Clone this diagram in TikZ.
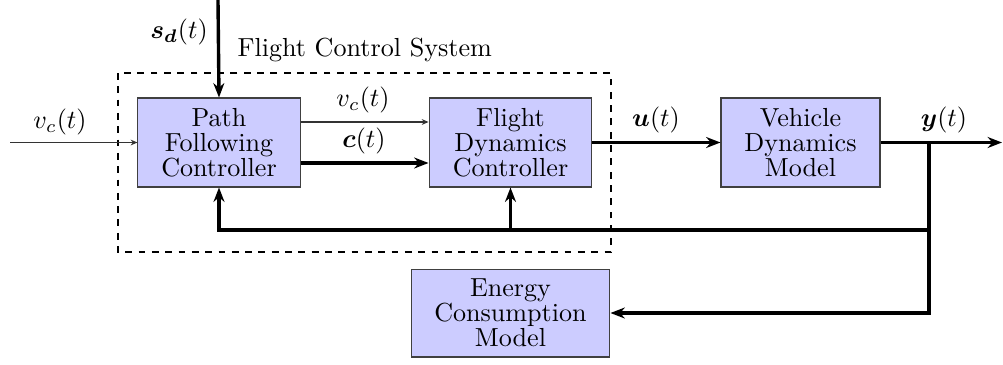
\documentclass[tikz,border=0pt]{standalone}
\usepackage{amsmath}
\usetikzlibrary{arrows.meta}
\tikzset{
  blk/.style={draw=black!75, fill=blue!20, line width=0.4pt, align=center, inner sep=0pt},
  thk/.style={line width=1.3pt},
  thn/.style={line width=0.4pt, draw=black!80},
  thkarr/.style={thk, -{Stealth[length=5.5pt,width=4.2pt]}},
  thnarr/.style={thn, -{Stealth[length=2.6pt,width=2.2pt]}},
  lbl/.style={inner sep=0pt},
}
\begin{document}
\begin{tikzpicture}[x=0.3831pt,y=-0.3831pt]
\useasboundingbox (0,0) rectangle (1003,364);
% dashed system box
\draw[line width=0.5pt, dash pattern=on 2.6pt off 2.5pt] (118,73) rectangle (611,252);
\node[lbl, anchor=west] (fcslbl) at (237,50) {Flight Control System};
% blocks
\node[blk, minimum width=62.1pt, minimum height=34.1pt] (pf) at (219,142.5) {Path\\[-2.4pt]Following\\[-2.4pt]Controller};
\node[blk, minimum width=62.4pt, minimum height=34.1pt] (fd) at (510.5,142.5) {Flight\\[-2.4pt]Dynamics\\[-2.4pt]Controller};
\node[blk, minimum width=60.9pt, minimum height=34.1pt] (vd) at (800.5,142.5) {Vehicle\\[-2.4pt]Dynamics\\[-2.4pt]Model};
\node[blk, minimum width=76.2pt, minimum height=33.7pt] (en) at (510.5,313) {Energy\\[-2.4pt]Consumption\\[-2.4pt]Model};
% coordinates
\coordinate (vin) at (10,142.5);
\coordinate (sdtop) at (218,0);
\coordinate (vcy) at (0,122);
\coordinate (cy) at (0,163);
\coordinate (br) at (929,142.5);
\coordinate (fb) at (929,230);
\coordinate (yout) at (1002,142.5);
% connectors
\draw[thnarr] (vin) -- (pf.west);
\draw[thkarr] (sdtop) -- (pf.north);
\draw[thnarr] (pf.east |- vcy) -- (fd.west |- vcy);
\draw[thkarr] (pf.east |- cy) -- (fd.west |- cy);
\draw[thkarr] (fd.east) -- (vd.west);
\draw[thkarr] (vd.east) -- (yout);
\draw[thkarr] (br) |- (en.east);
\draw[thkarr] (fb) -| (pf.south);
\draw[thkarr] (fd.south |- fb) -- (fd.south);
% labels
\node[lbl] (lvin) at (60,122) {$v_c(t)$};
\node[lbl] (lsd) at (179,32) {$\boldsymbol{s_d}(t)$};
\node[lbl] (lvc) at (363,100) {$v_c(t)$};
\node[lbl] (lc) at (364,141) {$\boldsymbol{c}(t)$};
\node[lbl] (lu) at (656,120) {$\boldsymbol{u}(t)$};
\node[lbl] (ly) at (944,120) {$\boldsymbol{y}(t)$};
\end{tikzpicture}
\end{document}
